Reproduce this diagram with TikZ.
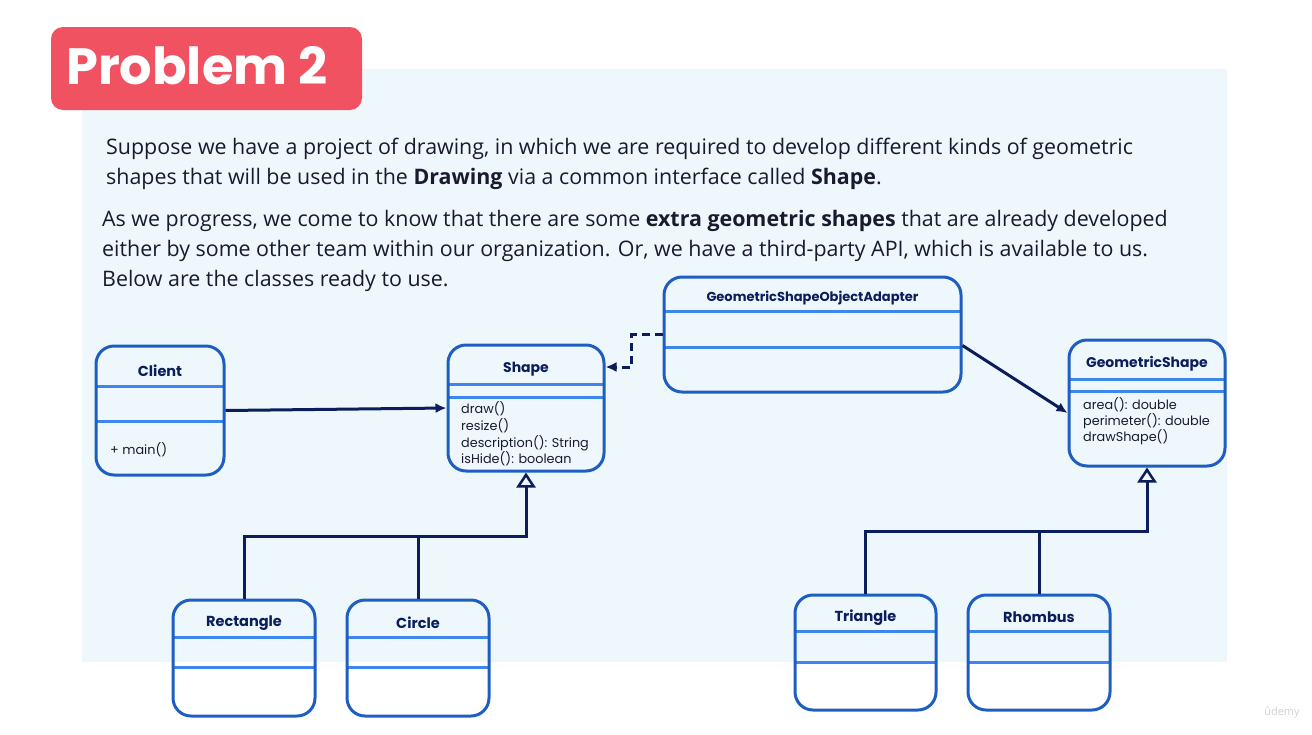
\documentclass[tikz,border=0pt]{standalone}
\usepackage{fontspec}
\setmainfont{Open Sans}
\newfontfamily\pop{Poppins}
\usetikzlibrary{arrows.meta,calc}
\definecolor{panel}{HTML}{EEF7FC}
\definecolor{titlered}{HTML}{F05262}
\definecolor{boxblue}{HTML}{1E5EC0}
\definecolor{divblue}{HTML}{3C86EE}
\definecolor{navy}{HTML}{0B1E5B}
\definecolor{txt}{HTML}{1A1A2E}
\newcommand\umlclass[9]{%
  \draw[divider] (#2,#6) -- (#4,#6);
  \draw[divider] (#2,#7) -- (#4,#7);
  \node[classbox, minimum width={#4-#2}, minimum height={#5-#3}] (#1) at ({(#2+#4)/2},{(#3+#5)/2}) {};
  \node[cname, font=\pop\bfseries\fontsize{#9}{16}\selectfont] (#1-title) at ({(#2+#4)/2},{(#3+#6)/2+4.5}) {#8};
}
\begin{document}
\begin{tikzpicture}[x=1pt,y=-1pt,
  classbox/.style={draw=boxblue, line width=3pt, rounded corners=18pt, inner sep=0pt},
  divider/.style={draw=divblue, line width=3pt},
  cname/.style={text=navy, inner sep=0pt},
  member/.style={font=\pop\fontsize{12.8}{14}\selectfont, text=txt, anchor=base west, inner sep=0pt},
  body/.style={font=\fontsize{21.4}{24}\selectfont, text=txt, anchor=base west, inner sep=0pt},
  conn/.style={draw=navy, line width=3pt},
  assoc/.style={conn, -{Latex[length=11pt,width=10pt]}},
  inherit/.style={conn, -{Triangle[length=15pt,width=19pt,fill=panel,line width=2.5pt]}},
]
\useasboundingbox (0,0) rectangle (1312,734);
\fill[white] (0,0) rectangle (1312,734);
\fill[panel] (82,69) rectangle (1227,662);
% title
\fill[titlered, rounded corners=12pt] (51,27) rectangle (362,110);
\node[font=\pop\bfseries\fontsize{51}{56}\selectfont, text=white, anchor=base west, inner sep=0pt] (title) at (66,84) {Problem 2};
% body text
\node[body] (l1) at (106,154) {Suppose we have a project of drawing, in which we are required to develop different kinds of geometric};
\node[body] (l2) at (106,184) {shapes that will be used in the \textbf{Drawing} via a common interface called \textbf{Shape}.};
\node[body] (l3) at (102,226) {As we progress, we come to know that there are some \textbf{extra geometric shapes} that are already developed};
\node[body] (l4) at (102,256) {either by some other team within our organization. Or, we have a third-party API, which is available to us.};
\node[body] (l5) at (102,286) {Below are the classes ready to use.};
% classes
\umlclass{client}{96}{346}{224}{475}{386}{421}{Client}{14.5}
\umlclass{shape}{448}{345}{604}{471}{384}{397}{Shape}{14}
\umlclass{adapter}{664}{277}{961}{392}{311}{347}{GeometricShapeObjectAdapter}{13}
\umlclass{gshape}{1069}{340}{1225}{466}{379}{391}{GeometricShape}{14}
\umlclass{rect}{173}{600}{315}{716}{637}{667}{Rectangle}{14.5}
\umlclass{circ}{347}{600}{489}{716}{637}{667}{Circle}{14.5}
\umlclass{tri}{795}{595}{936}{710}{631}{662}{Triangle}{14.5}
\umlclass{rhom}{968}{595}{1110}{710}{631}{662}{Rhombus}{14.5}
% members
\node[member] (m0) at (110,454) {+ main()};
\node[member] (s1) at (461,413) {draw()};
\node[member] (s2) at (461,430) {resize()};
\node[member] (s3) at (461,447) {description(): String};
\node[member] (s4) at (461,463) {isHide(): boolean};
\node[member] (g1) at (1083,409) {area(): double};
\node[member] (g2) at (1083,425) {perimeter(): double};
\node[member] (g3) at (1083,441) {drawShape()};
% connectors
\draw[assoc] (client.east) -- (shape.west);
\draw[assoc, dashed, dash pattern=on 8pt off 5pt] (adapter.west) -- ++(-31,0) |- ([yshift=41pt]shape.east);
\draw[assoc] ([yshift=-11pt]adapter.east) -- ([yshift=-10pt]gshape.west);
\coordinate (j1) at (526,536);
\coordinate (j2) at (1147,531);
\draw[inherit] (rect.north) |- (j1) -- (shape.south);
\draw[conn] (circ.north) -- (circ.north |- j1);
\draw[inherit] (tri.north) |- (j2) -- (gshape.south);
\draw[conn] (rhom.north) -- (rhom.north |- j2);
% watermark
\node[text=black!18, font=\fontsize{11}{12}\selectfont, inner sep=0pt] (wm) at (1282,713) {ûdemy};
\end{tikzpicture}
\end{document}
